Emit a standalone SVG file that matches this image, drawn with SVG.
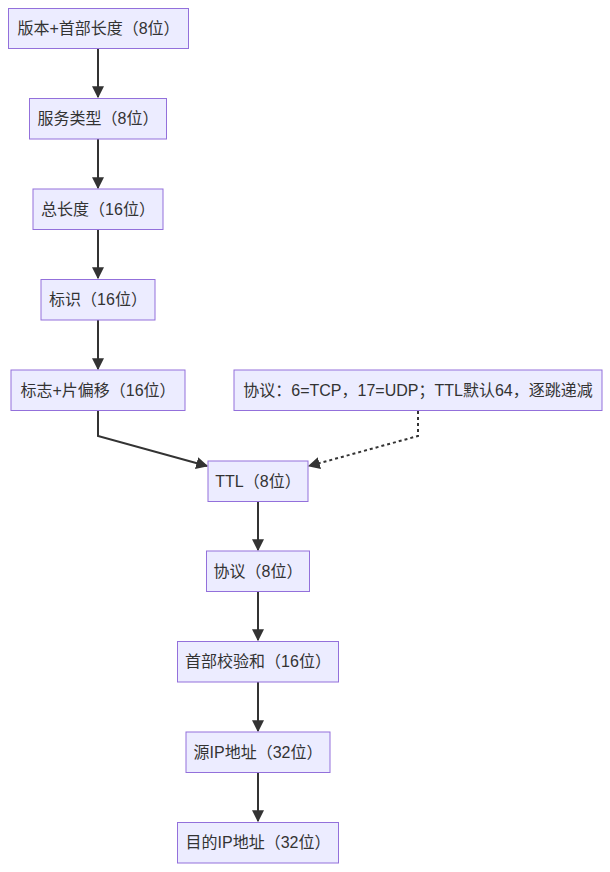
<svg xmlns="http://www.w3.org/2000/svg" width="610" height="872" viewBox="0 0 610 872">
<defs>
<style>
.n rect{fill:#ECECFF;stroke:#9370DB;stroke-width:1}
.n text{font-family:"Liberation Sans","Noto Sans CJK SC",sans-serif;font-size:16px;fill:#333;text-anchor:middle;dominant-baseline:central}
.e{fill:none;stroke:#333;stroke-width:2}
.d{stroke-dasharray:3 3}
</style>
<marker id="ah" viewBox="0 0 10 10" refX="9" refY="5" markerWidth="6" markerHeight="6" markerUnits="strokeWidth" orient="auto">
<path d="M0,0L10,5L0,10z" fill="#333"/>
</marker>
</defs>
<g id="connectors">
<path class="e" d="M98,48.5V97" marker-end="url(#ah)"/>
<path class="e" d="M98,139V188" marker-end="url(#ah)"/>
<path class="e" d="M98,230V278" marker-end="url(#ah)"/>
<path class="e" d="M98,320V369" marker-end="url(#ah)"/>
<path class="e" d="M98,411V436L207,466" marker-end="url(#ah)"/>
<path class="e d" d="M418,411V436L309,466" marker-end="url(#ah)"/>
<path class="e" d="M258,502V550" marker-end="url(#ah)"/>
<path class="e" d="M258,592V640" marker-end="url(#ah)"/>
<path class="e" d="M258,682V731" marker-end="url(#ah)"/>
<path class="e" d="M258,773V821" marker-end="url(#ah)"/>
</g>
<g id="n1" class="n"><rect x="8.5" y="8.5" width="180" height="40"/><text x="98.5" y="28.5">版本+首部长度（8位）</text></g>
<g id="n2" class="n"><rect x="29.5" y="98.5" width="137" height="40.5"/><text x="98" y="118.75">服务类型（8位）</text></g>
<g id="n3" class="n"><rect x="33" y="189" width="130" height="40.5"/><text x="98" y="209.25">总长度（16位）</text></g>
<g id="n4" class="n"><rect x="41" y="279.5" width="114" height="40.5"/><text x="98" y="299.75">标识（16位）</text></g>
<g id="n5" class="n"><rect x="11" y="370" width="174" height="40.5"/><text x="98" y="390.25">标志+片偏移（16位）</text></g>
<g id="note" class="n"><rect x="234" y="370" width="368" height="40.5"/><text x="418" y="390.25">协议：6=TCP，17=UDP；TTL默认64，逐跳递减</text></g>
<g id="n6" class="n"><rect x="208" y="461" width="100" height="40.5"/><text x="258" y="481.25">TTL（8位）</text></g>
<g id="n7" class="n"><rect x="206.5" y="551" width="103" height="40.5"/><text x="258" y="571.25">协议（8位）</text></g>
<g id="n8" class="n"><rect x="177.5" y="641.5" width="161" height="40.5"/><text x="258" y="661.75">首部校验和（16位）</text></g>
<g id="n9" class="n"><rect x="186" y="732" width="144" height="40.5"/><text x="258" y="752.25">源IP地址（32位）</text></g>
<g id="n10" class="n"><rect x="177.5" y="822.5" width="161" height="40.5"/><text x="258" y="842.75">目的IP地址（32位）</text></g>
</svg>
